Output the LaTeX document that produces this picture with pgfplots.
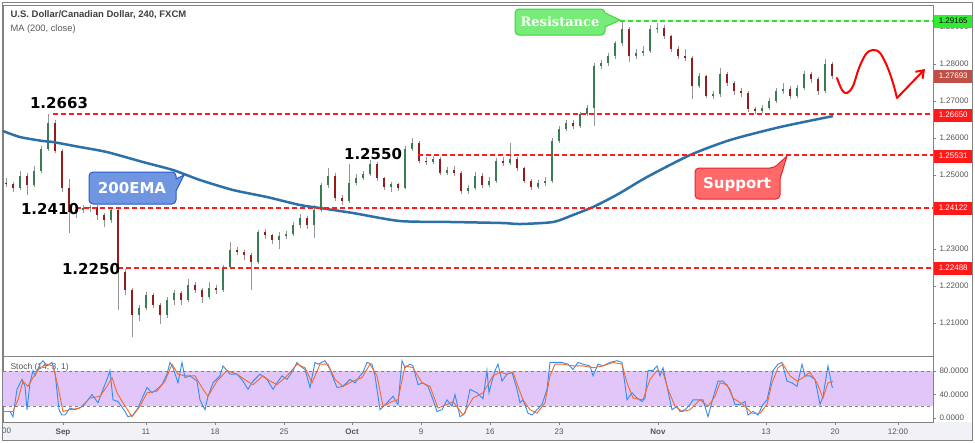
\documentclass[border=0pt]{standalone}
\usepackage{pgfplots}
\pgfplotsset{compat=1.18}
\usepackage{pgfplotstable}
\usetikzlibrary{arrows.meta}
\usepackage{fontspec}
\setmainfont{Liberation Sans}
\newfontfamily\dvs{DejaVu Sans}
\newfontfamily\dvserif{DejaVu Serif}
\definecolor{upc}{RGB}{58,125,82}
\definecolor{dnc}{RGB}{150,28,28}
\definecolor{wickc}{RGB}{150,150,150}
\definecolor{ema}{RGB}{44,112,168}
\definecolor{lvl}{RGB}{255,28,28}
\definecolor{res}{RGB}{40,230,40}
\definecolor{lav}{RGB}{226,198,250}
\definecolor{kblue}{RGB}{50,140,240}
\definecolor{dorange}{RGB}{245,105,40}
\definecolor{tickgray}{RGB}{85,85,85}
\definecolor{framegray}{RGB}{130,130,130}
\definecolor{stripbg}{RGB}{240,242,246}

\pgfplotstableread{
x o h l c
6 1.2480 1.2492 1.2468 1.2475
13 1.2475 1.2482 1.2455 1.2464
20 1.2464 1.2510 1.2460 1.2499
27 1.2499 1.2505 1.2445 1.2472
34 1.2472 1.2525 1.2468 1.2512
41 1.2512 1.2580 1.2505 1.2571
48 1.2571 1.2665 1.2565 1.2641
55 1.2641 1.2650 1.2560 1.2566
62 1.2566 1.2572 1.2455 1.2464
69 1.2464 1.2490 1.2343 1.2399
76 1.2399 1.2418 1.2385 1.2405
83 1.2405 1.2420 1.2398 1.2410
90 1.2410 1.2420 1.2400 1.2413
97 1.2413 1.2418 1.2380 1.2391
104 1.2391 1.2398 1.2360 1.2378
111 1.2378 1.2412 1.2370 1.2405
118 1.2405 1.2410 1.2136 1.2238
125 1.2238 1.2245 1.2175 1.2189
132 1.2189 1.2195 1.2063 1.2122
139 1.2122 1.2150 1.2105 1.2141
146 1.2141 1.2185 1.2135 1.2176
153 1.2176 1.2182 1.2140 1.2149
160 1.2149 1.2155 1.2098 1.2122
167 1.2122 1.2170 1.2115 1.2162
174 1.2162 1.2190 1.2150 1.2181
181 1.2181 1.2188 1.2150 1.2162
188 1.2162 1.2220 1.2158 1.2203
195 1.2203 1.2210 1.2180 1.2189
202 1.2189 1.2195 1.2155 1.2171
209 1.2171 1.2210 1.2165 1.2195
216 1.2195 1.2202 1.2178 1.2189
223 1.2189 1.2258 1.2185 1.2251
230 1.2251 1.2318 1.2245 1.2297
237 1.2297 1.2305 1.2283 1.2292
244 1.2292 1.2298 1.2270 1.2284
251 1.2284 1.2290 1.2189 1.2265
258 1.2265 1.2352 1.2260 1.2345
265 1.2345 1.2355 1.2328 1.2337
272 1.2337 1.2342 1.2315 1.2324
279 1.2324 1.2345 1.2300 1.2335
286 1.2335 1.2350 1.2328 1.2340
293 1.2340 1.2372 1.2335 1.2364
300 1.2364 1.2395 1.2358 1.2383
307 1.2383 1.2390 1.2355 1.2364
314 1.2364 1.2418 1.2330 1.2405
321 1.2405 1.2480 1.2400 1.2472
328 1.2472 1.2518 1.2465 1.2499
335 1.2499 1.2505 1.2430 1.2437
342 1.2437 1.2445 1.2420 1.2431
349 1.2431 1.2531 1.2425 1.2480
356 1.2480 1.2502 1.2472 1.2493
363 1.2493 1.2512 1.2488 1.2504
370 1.2504 1.2540 1.2498 1.2531
377 1.2531 1.2535 1.2485 1.2491
384 1.2491 1.2496 1.2460 1.2469
391 1.2469 1.2482 1.2455 1.2475
398 1.2475 1.2480 1.2458 1.2466
405 1.2466 1.2578 1.2462 1.2571
412 1.2571 1.2601 1.2565 1.2587
419 1.2587 1.2592 1.2532 1.2539
426 1.2539 1.2548 1.2528 1.2536
433 1.2536 1.2552 1.2530 1.2544
440 1.2544 1.2550 1.2500 1.2507
447 1.2507 1.2522 1.2500 1.2515
454 1.2515 1.2525 1.2498 1.2507
461 1.2507 1.2512 1.2450 1.2458
468 1.2458 1.2472 1.2448 1.2464
475 1.2464 1.2508 1.2460 1.2499
482 1.2499 1.2505 1.2465 1.2472
489 1.2472 1.2495 1.2468 1.2485
496 1.2485 1.2545 1.2480 1.2539
503 1.2539 1.2548 1.2525 1.2534
510 1.2534 1.2587 1.2528 1.2544
517 1.2544 1.2550 1.2510 1.2518
524 1.2518 1.2522 1.2478 1.2485
531 1.2485 1.2490 1.2460 1.2469
538 1.2469 1.2488 1.2462 1.2480
545 1.2480 1.2495 1.2470 1.2485
552 1.2485 1.2600 1.2480 1.2593
559 1.2593 1.2632 1.2588 1.2625
566 1.2625 1.2648 1.2618 1.2641
573 1.2641 1.2650 1.2625 1.2633
580 1.2633 1.2672 1.2628 1.2666
587 1.2666 1.2690 1.2660 1.2682
594 1.2682 1.2802 1.2633 1.2795
601 1.2795 1.2810 1.2788 1.2803
608 1.2803 1.2830 1.2795 1.2822
615 1.2822 1.2862 1.2815 1.2856
622 1.2856 1.2913 1.2850 1.2894
629 1.2894 1.2900 1.2805 1.2822
636 1.2822 1.2840 1.2815 1.2830
643 1.2830 1.2848 1.2822 1.2835
650 1.2835 1.2905 1.2830 1.2894
657 1.2894 1.2912 1.2885 1.2897
664 1.2897 1.2905 1.2868 1.2875
671 1.2875 1.2880 1.2832 1.2840
678 1.2840 1.2848 1.2815 1.2822
685 1.2822 1.2840 1.2808 1.2816
692 1.2816 1.2822 1.2705 1.2741
699 1.2741 1.2775 1.2735 1.2768
706 1.2768 1.2772 1.2708 1.2714
713 1.2714 1.2728 1.2706 1.2719
720 1.2719 1.2790 1.2712 1.2773
727 1.2773 1.2778 1.2740 1.2749
734 1.2749 1.2755 1.2718 1.2727
741 1.2727 1.2735 1.2712 1.2722
748 1.2722 1.2728 1.2672 1.2679
755 1.2679 1.2685 1.2665 1.2674
762 1.2674 1.2690 1.2668 1.2682
769 1.2682 1.2708 1.2676 1.2700
776 1.2700 1.2735 1.2695 1.2727
783 1.2727 1.2748 1.2720 1.2733
790 1.2733 1.2740 1.2705 1.2714
797 1.2714 1.2745 1.2708 1.2735
804 1.2735 1.2782 1.2730 1.2773
811 1.2773 1.2778 1.2750 1.2760
818 1.2760 1.2765 1.2718 1.2727
825 1.2727 1.2813 1.2722 1.2800
832 1.2800 1.2805 1.2760 1.2769
}\candles

\begin{document}
\begin{tikzpicture}[x=1pt,y=1pt]
\useasboundingbox (0,0) rectangle (975,-442);
\fill[white] (0,0) rectangle (975,-442);
\fill[stripbg] (2,-422) rectangle (972,-440);

% ---------------- main price panel ----------------
\begin{axis}[at={(3pt,-5pt)}, anchor=north west, scale only axis,
  width=930pt, height=351pt,
  xmin=3, xmax=933, ymin=1.2011, ymax=1.2960,
  xtick=\empty,
  ytick={1.21,1.22,1.23,1.24,1.25,1.26,1.27,1.28,1.29},
  ytick pos=right, yticklabel pos=right,
  tick align=outside, major tick length=3pt,
  tick style={framegray},
  axis line style={framegray},
  yticklabel style={font=\fontsize{8}{9}\selectfont, text=tickgray,
    /pgf/number format/fixed, /pgf/number format/fixed zerofill,
    /pgf/number format/precision=5, /pgf/number format/assume math mode=true}]
% wicks
\addplot[wickc, line width=0.9pt, mark=none, forget plot,
  quiver={u=0, v={\thisrow{h}-\thisrow{l}}}]
  table[x=x, y=l] {\candles};
% up bodies
\addplot[upc, line width=2.8pt, mark=none, forget plot,
  restrict expr to domain={(\thisrow{c}-\thisrow{o})*10000}{0:1000},
  quiver={u=0, v={\thisrow{c}-\thisrow{o}}}]
  table[x=x, y=o] {\candles};
% down bodies
\addplot[dnc, line width=2.8pt, mark=none, forget plot,
  restrict expr to domain={(\thisrow{o}-\thisrow{c})*10000}{0.01:1000},
  quiver={u=0, v={\thisrow{o}-\thisrow{c}}}]
  table[x=x, y=c] {\candles};
% 200 EMA
\addplot[ema, line width=2.5pt, smooth, tension=0.4] coordinates {
(3,1.26192) (20,1.26030) (43,1.25922) (53,1.25895) (80,1.25760) (107,1.25624)
(143,1.25354) (173,1.25138) (200,1.24868) (233,1.24598) (267,1.24408)
(300,1.24192) (320,1.24111) (353,1.23976) (400,1.23759) (453,1.23732)
(503,1.23705) (520,1.23678) (553,1.23732) (573,1.23922) (593,1.24138)
(607,1.24327) (620,1.24516) (647,1.24949) (690,1.25543) (730,1.25949)
(780,1.26300) (833,1.26597)};
% levels
\addplot[lvl, line width=2pt, dash pattern=on 5pt off 3pt] coordinates {(53,1.2665) (933,1.2665)};
\addplot[lvl, line width=2pt, dash pattern=on 5pt off 3pt] coordinates {(418,1.25531) (933,1.25531)};
\addplot[lvl, line width=2pt, dash pattern=on 5pt off 3pt] coordinates {(76,1.24122) (933,1.24122)};
\addplot[lvl, line width=2pt, dash pattern=on 5pt off 3pt] coordinates {(118,1.22488) (933,1.22488)};
\addplot[res, line width=2pt, dash pattern=on 5pt off 3pt] coordinates {(620,1.29165) (933,1.29165)};
\end{axis}

% ---------------- stochastic panel ----------------
\begin{axis}[at={(3pt,-356pt)}, anchor=north west, scale only axis,
  width=930pt, height=66pt,
  xmin=3, xmax=933, ymin=-7, ymax=106,
  xtick={63,146,215,284,352,421,490,559,658,766,835,898},
  xticklabels={\textbf{Sep},11,18,25,\textbf{Oct},9,16,23,\textbf{Nov},13,20,12:00},
  xtick pos=bottom,
  ytick={0,40,80},
  ytick pos=right, yticklabel pos=right,
  tick align=outside, major tick length=3pt,
  tick style={framegray},
  axis line style={framegray},
  xticklabel style={font=\fontsize{8}{9}\selectfont, text=tickgray},
  yticklabel style={font=\fontsize{8}{9}\selectfont, text=tickgray,
    /pgf/number format/fixed, /pgf/number format/fixed zerofill,
    /pgf/number format/precision=4, /pgf/number format/assume math mode=true}]
\fill[lav] (axis cs:3,20) rectangle (axis cs:933,80);
\addplot[gray, dashed, line width=0.8pt, forget plot] coordinates {(3,80) (933,80)};
\addplot[gray, dashed, line width=0.8pt, forget plot] coordinates {(3,20) (933,20)};
\node[anchor=west, text=tickgray, font=\fontsize{8.5}{9}\selectfont] at (axis cs:7,86) {Stoch (14, 3, 1)};
\addplot[kblue, line width=0.9pt] coordinates {
(3,11) (10,11) (13,2) (17,49) (22,66) (25,54) (27,14) (30,60) (33,81) (35,72)
(40,92) (43,98) (47,89) (52,95) (55,78) (59,14) (62,5) (65,5) (70,17) (75,14)
(83,20) (92,40) (98,26) (103,49) (107,66) (110,81) (113,31) (118,28) (125,11)
(128,2) (133,5) (138,17) (143,37) (147,52) (152,43) (157,49) (162,57) (167,75)
(170,95) (173,86) (178,60) (182,95) (185,69) (190,72) (197,63) (200,31) (205,14)
(208,37) (213,60) (220,72) (223,89) (230,75) (237,75) (243,63) (248,49) (253,63)
(260,75) (267,66) (273,49) (277,60) (282,72) (287,66) (293,81) (297,95) (300,89)
(305,83) (310,52) (315,95) (318,92) (325,98) (330,83) (333,69) (337,52) (343,54)
(350,66) (355,60) (360,72) (363,78) (367,95) (372,92) (375,72) (380,14) (387,26)
(393,37) (398,23) (402,98) (405,86) (410,92) (413,89) (418,57) (423,60) (428,54)
(433,31) (437,11) (442,14) (447,31) (452,20) (455,40) (460,2) (465,8) (470,49)
(477,43) (483,33) (487,81) (489,43) (492,63) (495,81) (498,92) (502,63) (507,75)
(512,78) (517,49) (520,26) (523,31) (528,8) (532,5) (537,14) (542,23) (547,49)
(550,95) (555,95) (562,95) (568,92) (573,83) (578,95) (583,92) (590,89) (593,72)
(598,92) (603,89) (610,95) (617,98) (622,95) (627,31) (632,43) (637,34) (642,28)
(645,34) (648,81) (653,81) (657,89) (660,72) (663,86) (667,54) (672,14) (677,20)
(680,11) (685,14) (690,23) (693,31) (698,31) (703,31) (708,2) (713,34) (718,63)
(723,63) (730,49) (735,23) (740,23) (745,28) (748,5) (753,11) (758,5) (763,23)
(767,31) (770,54) (773,81) (778,92) (782,95) (787,63) (792,60) (797,54) (802,92)
(805,72) (810,72) (815,66) (820,23) (823,37) (828,89) (832,54) (833,52)};
\addplot[dorange, line width=0.9pt] coordinates {
(3,11) (13,11) (18,31) (23,63) (28,54) (33,69) (40,86) (47,92) (53,89) (58,54)
(63,11) (70,14) (80,17) (90,34) (100,37) (107,54) (112,69) (117,43) (123,26)
(132,2) (140,20) (147,43) (157,46) (165,63) (172,92) (178,75) (185,72) (195,72)
(203,49) (208,37) (217,63) (227,81) (237,75) (247,63) (253,57) (263,72) (270,63)
(277,57) (287,72) (297,92) (305,86) (312,60) (320,92) (328,92) (335,66) (343,54)
(353,63) (362,69) (370,92) (377,72) (383,20) (392,28) (398,31) (405,89) (413,86)
(422,60) (430,54) (438,17) (447,23) (453,28) (463,5) (473,34) (483,43) (487,54)
(493,72) (500,78) (507,75) (513,78) (518,54) (523,31) (530,14) (537,8) (545,26)
(550,72) (555,92) (563,92) (573,89) (583,89) (593,86) (603,89) (613,95) (622,92)
(627,60) (633,34) (643,31) (650,66) (657,81) (663,78) (668,49) (675,20) (682,11)
(690,14) (700,31) (708,20) (715,37) (720,60) (727,57) (733,34) (743,23) (752,8)
(760,8) (767,23) (772,60) (778,86) (783,92) (790,72) (797,63) (803,69) (810,78)
(817,60) (823,34) (828,60) (833,63)};
\end{axis}

% ---------------- annotations ----------------
\node[anchor=west, text=tickgray, font=\fontsize{8}{9}\selectfont, inner sep=1pt] at (1,-431) {00};
\node[anchor=west, text=black!75, font=\bfseries\fontsize{9.5}{11}\selectfont] at (7,-15) {U.S. Dollar/Canadian Dollar, 240, FXCM};
\node[anchor=west, text=black!65, font=\fontsize{9.3}{11}\selectfont] at (7,-29) {MA (200, close)};

\node[font=\dvs\bfseries\fontsize{15}{15}\selectfont] at (59,-103) {1.2663};
\node[font=\dvs\bfseries\fontsize{15}{15}\selectfont] at (50,-209) {1.2410};
\node[font=\dvs\bfseries\fontsize{15}{15}\selectfont] at (91,-269) {1.2250};
\node[font=\dvs\bfseries\fontsize{15}{15}\selectfont] at (373,-154) {1.2550};

% 200EMA callout
\draw[draw={rgb,255:red,40;green,90;blue,210}, fill={rgb,255:red,112;green,150;blue,226}, line width=1pt]
  (89,-172) [rounded corners=4pt] -- (176,-172) [sharp corners] -- (176,-179) -- (184,-175) -- (176,-191) [rounded corners=4pt] -- (176,-204) -- (89,-204) -- cycle;
\node[text=white, font=\dvs\bfseries\fontsize{15}{15}\selectfont] at (132,-188) {200EMA};

% Resistance callout
\draw[draw={rgb,255:red,60;green,215;blue,60}, fill={rgb,255:red,120;green,236;blue,120}, line width=1pt]
  (515,-9) [rounded corners=4pt] -- (605,-9) [sharp corners] -- (605,-13) -- (620,-20) -- (605,-27) [rounded corners=4pt] -- (605,-35) -- (515,-35) -- cycle;
\node[text=white, font=\dvserif\bfseries\fontsize{13}{13}\selectfont] at (560,-22) {Resistance};

% Support callout
\draw[draw={rgb,255:red,230;green,40;blue,40}, fill={rgb,255:red,255;green,105;blue,105}, line width=1pt]
  (695,-168) [rounded corners=4pt] -- (774,-168) [sharp corners] -- (787,-156) -- (780,-179) [rounded corners=4pt] -- (780,-199) -- (695,-199) -- cycle;
\node[text=white, font=\dvs\bfseries\fontsize{15}{15}\selectfont] at (737,-184) {Support};

% projection sketch
\draw[red, line width=2pt, line cap=round] plot[smooth, tension=0.6] coordinates {(837,-78) (842,-90) (847,-93) (853,-86) (859,-68) (866,-54) (873,-50) (880,-53) (887,-66) (893,-83) (897,-98)};
\draw[red, line width=2pt, line cap=round, -{Straight Barb[length=7pt,width=10pt]}] (897,-98) -- (925,-69);

% right price labels
\tikzset{plab/.style={anchor=west, minimum width=38pt, minimum height=13pt, inner sep=1pt, font=\fontsize{8}{9}\selectfont}}
\node[plab, fill={rgb,255:red,50;green,235;blue,50}, text=black] at (934,-21) {1.29165};
\node[plab, fill={rgb,255:red,192;green,80;blue,70}, text=white] at (934,-76) {1.27693};
\node[plab, fill={rgb,255:red,255;green,25;blue,25}, text=white] at (934,-115) {1.26650};
\node[plab, fill={rgb,255:red,255;green,25;blue,25}, text=white] at (934,-156) {1.25531};
\node[plab, fill={rgb,255:red,255;green,25;blue,25}, text=white] at (934,-208) {1.24122};
\node[plab, fill={rgb,255:red,255;green,25;blue,25}, text=white] at (934,-268) {1.22488};

% outer frame
\draw[framegray, line width=0.8pt] (2,-2) rectangle (972,-440);
\end{tikzpicture}
\end{document}
